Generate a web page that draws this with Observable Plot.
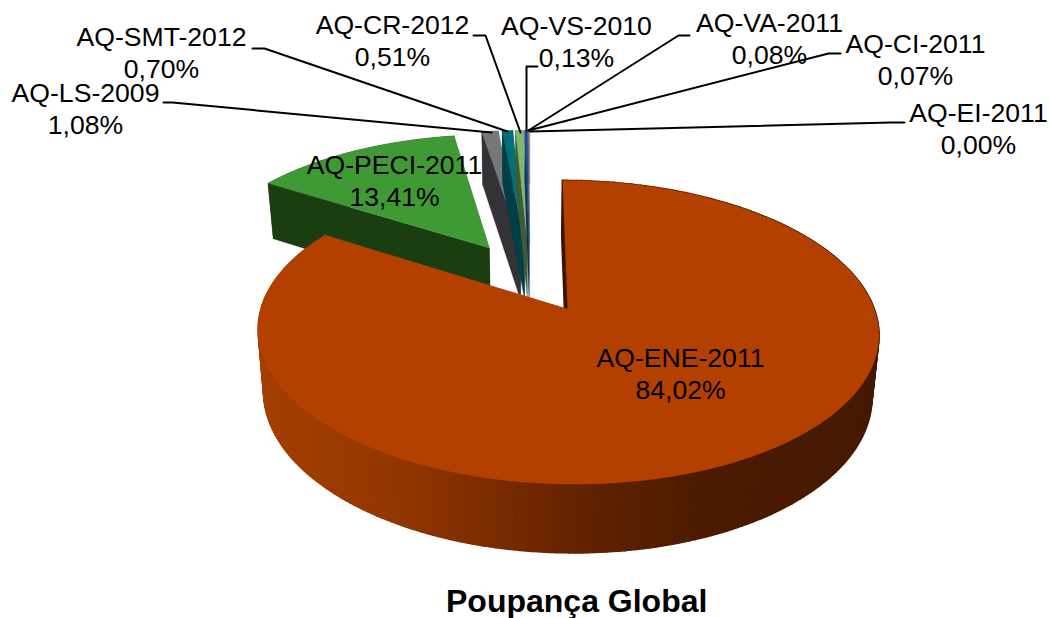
<!DOCTYPE html>
<html>
<head>
<meta charset="utf-8">
<script src="https://cdn.jsdelivr.net/npm/d3@7"></script>
<script src="https://cdn.jsdelivr.net/npm/@observablehq/plot@0.6"></script>
<style>
html,body{margin:0;padding:0;background:#fff;overflow:hidden;}
#title{font:bold 32px "Liberation Sans",Arial,sans-serif;color:#000;height:38px;line-height:38px;margin-left:446px;white-space:nowrap;position:relative;top:2px;}
svg{display:block;}
</style>
</head>
<body>
<div id="chart"></div>
<div id="title">Poupança Global</div>
<script>
// ---- data ----
const names = ["AQ-ENE-2011","AQ-PECI-2011","AQ-LS-2009","AQ-SMT-2012","AQ-CR-2012","AQ-VS-2010","AQ-VA-2011","AQ-CI-2011","AQ-EI-2011"];
const shares = [84.02,13.41,1.08,0.70,0.51,0.13,0.08,0.07,0.00];
// ---- styling ----
const topColors  = ["#b44000","#3f9935","#77777a","#00707a","#7fb86a","#1f4e9c","#2f5f98","#8f98a0","#c0c4c8"];
const sideColors = ["#5a2000","#1a3e12","#333336","#003f46","#3e5c33","#0f2a58","#20466c","#60666c","#60666c"];
const labelCentersX = [680,394,85,161,392,576,769,915,978];
const labelCentersY = [372,179,107,51,39,40,37,58,127];
const leaderX = [[163,172,491],[252,264,507],[473,485,520],[537,526,526],[689,678,528],[840,828,528],[904,890,530]];
const leaderY = [[102,102,132],[48,48,131],[35,35,132],[66,66,130],[35,35,130],[53,53,130],[122,122,131]];
const leaderOwners = [2,3,4,5,6,7,8];
// ---- pie geometry ----
const W = 1049, H = 580;
const cx = 529.5, cy = 276.2, R = 296.3, S = 138.5, k = 0.15, explode = 0.255;
const project = (u, v, bottom) => {
  const w = 1 + k * v;
  let x = R * u / w, y = -S * v / w;
  if (bottom) { x *= 0.98; y = y * 1.044 + 59.5; }
  return [cx + x, cy + y];
};
const sideRamp = d3.scaleLinear()
  .domain([258,400,568,700,879])
  .range(["#a53f00","#913600","#662300","#4c1b00","#451900"]);

let cum = 0;
const slices = shares.map((s, i) => {
  const a0 = cum / 100 * 2 * Math.PI; cum += s;
  const a1 = cum / 100 * 2 * Math.PI;
  const mid = (a0 + a1) / 2;
  const ax = explode * Math.sin(mid), ay = explode * Math.cos(mid);
  const steps = Math.max(2, Math.ceil((a1 - a0) / (Math.PI / 180)));
  const arc = d3.range(steps + 1).map(j => {
    const t = a0 + (a1 - a0) * j / steps;
    return [ax + Math.sin(t), ay + Math.cos(t)];
  });
  return {i, ax, ay, arc};
});

const poly = (pts, fill, width = 0.6) => Plot.line(
  pts.map(([x, y]) => ({x, y})),
  {x: "x", y: "y", fill, stroke: fill, strokeWidth: width, curve: "linear"}
);

const sliceMarks = ({i, ax, ay, arc}) => {
  if (shares[i] === 0) return [];
  const top = arc.map(([u, v]) => project(u, v, false));
  const bot = arc.map(([u, v]) => project(u, v, true));
  const marks = [];
  // curved side
  for (let j = 0; j < top.length - 1; j++) {
    const fill = i === 0 ? sideRamp((top[j][0] + top[j + 1][0]) / 2) : sideColors[i];
    marks.push(poly([top[j], top[j + 1], bot[j + 1], bot[j]], fill, i === 0 ? 1.6 : 0.3));
  }
  // radial wall at the first edge of the slice
  const wall = (n) => [project(ax, ay, false), top[n], bot[n], project(ax, ay, true)];
  marks.push(poly(wall(0), i === 0 ? "#3a1500" : sideColors[i], i === 0 ? 2 : 0.3));
  // top face
  marks.push(poly([project(ax, ay, false), ...top], topColors[i], 0.2));
  return marks;
};

// back slices first, the big front slice last
const order = [1,2,3,4,5,6,7,8,0];
const pieMarks = order.flatMap(i => sliceMarks(slices[i]));

const labelRows = names.map((n, i) => ({
  x: labelCentersX[i], y: labelCentersY[i],
  t: n + "\n" + shares[i].toFixed(2).replace(".", ",") + "%"
}));

const leaderMarks = leaderOwners.map((_, i) => Plot.line(
  leaderX[i].map((x, j) => ({x, y: leaderY[i][j]})),
  {x: "x", y: "y", stroke: "#000", strokeWidth: 2, curve: "linear"}
));

const chart = Plot.plot({
  width: W, height: H,
  margin: 0,
  x: {domain: [0, W], range: [0, W], axis: null},
  y: {domain: [0, H], range: [0, H], axis: null},
  color: {type: "identity"},
  style: {background: "#fff"},
  marks: [
    ...pieMarks,
    ...leaderMarks,
    Plot.text(labelRows, {
      x: "x", y: "y", text: "t", textAnchor: "middle", lineAnchor: "middle",
      lineHeight: 1.2, fontSize: 26.6, fontFamily: "Liberation Sans, Arial, sans-serif", fill: "#000"
    })
  ]
});
document.getElementById("chart").appendChild(chart);
</script>
</body>
</html>
